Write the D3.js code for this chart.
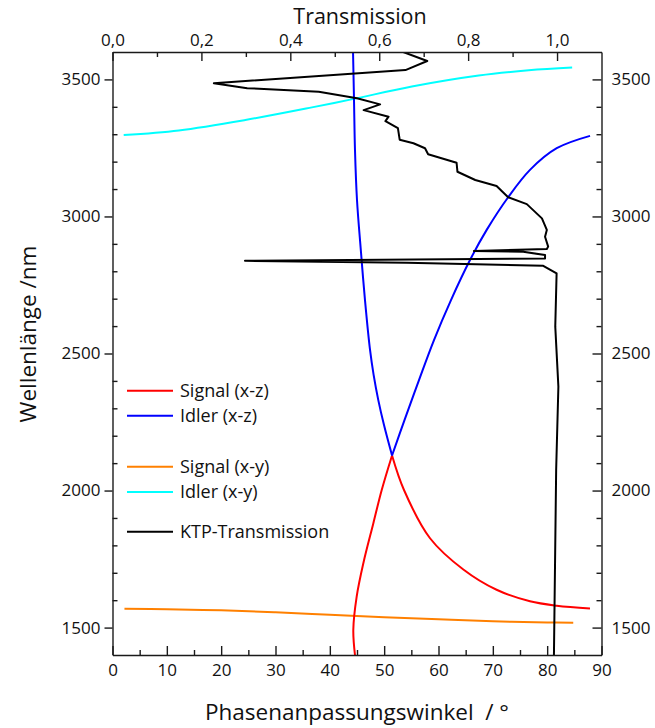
<!DOCTYPE html>
<html>
<head>
<meta charset="utf-8">
<script src="https://cdn.jsdelivr.net/npm/d3@7"></script>
<style>
  html, body { margin: 0; padding: 0; background: #fff; }
  svg { display: block; font-family: "Open Sans", "Noto Sans", sans-serif; }
  .axis path, .axis line { stroke: #1a1a1a; stroke-width: 1.4px; }
  .axis text { font-size: 17px; fill: #111; font-family: "Open Sans", "Noto Sans", sans-serif; }
</style>
</head>
<body>
<svg id="chart" width="655" height="728"></svg>
<script>
// Phase-matching angle (degrees) vs. wavelength (nm) for KTP, x-z plane
const signalXZLow  = [[44.63,1400],[44.32,1491],[44.94,1613],[46.17,1735],[48.0,1880],[49.55,2002],[51.45,2128]];
const signalXZHigh = [[51.45,2128],[53.65,2002],[58.44,1826],[64.57,1712],[70.69,1638],[76.84,1596],[81.76,1580],[87.88,1570]];
const idlerXZLow   = [[44.27,3600],[44.45,3425],[44.63,3242],[45.0,3060],[45.7,2878],[46.47,2695],[47.4,2513],[48.06,2422],[48.92,2330],[49.97,2239],[51.45,2128]];
const idlerXZHigh  = [[51.45,2128],[53.74,2257],[56.41,2403],[59.17,2549],[62.3,2695],[65.8,2841],[68.87,2951],[72.85,3071],[76.84,3170],[81.76,3249],[87.89,3294]];

// x-y plane
const signalXY = [[2.2,1569],[10,1567],[20,1563],[30,1556],[40,1547],[50,1538],[60,1530],[70,1523],[80,1519],[84.8,1518]];
const idlerXY  = [[2.06,3297],[12.2,3314],[24.45,3352],[36.7,3398],[44.4,3429],[55.1,3474],[67.4,3514],[76.6,3533],[84.6,3543]];

// KTP transmission spectrum, in measurement order
const ktpTransmission = [0.654,0.708,0.659,0.228,0.303,0.464,0.550,0.602,0.565,0.621,0.614,0.642,0.646,0.677,0.703,0.710,0.774,0.776,0.816,0.864,0.890,0.932,0.966,0.977,0.973,0.980,0.977,0.813,0.924,0.973,0.973,0.298,0.662,0.969,0.999,0.996,1.003,0.998,0.993];
const ktpWavelength   = [3600,3567,3534,3486,3468,3455,3431,3409,3388,3364,3348,3322,3280,3267,3249,3227,3196,3163,3133,3111,3070,3045,2993,2951,2926,2890,2881,2874,2871,2859,2847,2838,2831,2820,2792,2598,2379,2075,1400];

const angleTicks = d3.range(0, 91, 10);
const transTicks = [0, 0.2, 0.4, 0.6, 0.8, 1.0];
const wavelengthTicks = [1500, 2000, 2500, 3000, 3500];

const legendItems = [
  {label: "Signal (x-z)", color: "#ff0000"},
  {label: "Idler (x-z)", color: "#0000ff"},
  {label: "Signal (x-y)", color: "#ff8000"},
  {label: "Idler (x-y)", color: "#00ffff"},
  {label: "KTP-Transmission", color: "#000000"}
];

(function drawChart() {
  const svg = d3.select("#chart");
  const pLeft = 112.5, pRight = 601.5, pTop = 52, pBottom = 655;

  const x = d3.scaleLinear().domain([0, 90]).range([pLeft, pRight]);
  const xt = d3.scaleLinear().domain([0, 1.1]).range([pLeft, pRight]);
  const y = d3.scaleLinear().domain([1400, 3600]).range([pBottom, pTop]);

  svg.append("clipPath").attr("id", "plotClip")
    .append("rect").attr("x", pLeft).attr("y", pTop).attr("width", pRight - pLeft).attr("height", pBottom - pTop);

  const plot = svg.append("g").attr("clip-path", "url(#plotClip)");

  const angleLine = d3.line().x(d => x(d[0])).y(d => y(d[1])).curve(d3.curveCatmullRom.alpha(0.5));

  function drawCurve(data, color) {
    plot.append("path").datum(data)
      .attr("d", angleLine)
      .attr("fill", "none").attr("stroke", color)
      .attr("stroke-width", 2).attr("stroke-linejoin", "round");
  }

  drawCurve(signalXY, "#ff8000");
  drawCurve(idlerXY, "#00ffff");
  drawCurve(signalXZLow, "#ff0000");
  drawCurve(signalXZHigh, "#ff0000");
  drawCurve(idlerXZLow, "#0000ff");
  drawCurve(idlerXZHigh, "#0000ff");

  const ktp = ktpTransmission.map((t, i) => [t, ktpWavelength[i]]);
  plot.append("path").datum(ktp)
    .attr("d", d3.line().x(d => xt(d[0])).y(d => y(d[1])))
    .attr("fill", "none").attr("stroke", "#000")
    .attr("stroke-width", 2).attr("stroke-linejoin", "round");

  // Axes: major ticks with labels, minor ticks without
  const commaFmt = d => d3.format(".1f")(d).replace(".", ",");
  function minor(g) { g.select(".domain").remove(); }

  svg.append("g").attr("class", "axis").attr("transform", `translate(0,${pBottom})`)
    .call(d3.axisBottom(x).tickValues(d3.range(5, 90, 10)).tickSize(-5).tickFormat("")).call(minor);
  svg.append("g").attr("class", "axis").attr("transform", `translate(0,${pBottom})`)
    .call(d3.axisBottom(x).tickValues(angleTicks).tickSize(-9).tickSizeOuter(0).tickPadding(9).tickFormat(d3.format("d")));

  svg.append("g").attr("class", "axis").attr("transform", `translate(0,${pTop})`)
    .call(d3.axisTop(xt).tickValues([0.1, 0.3, 0.5, 0.7, 0.9]).tickSize(-5).tickFormat("")).call(minor);
  svg.append("g").attr("class", "axis").attr("transform", `translate(0,${pTop})`)
    .call(d3.axisTop(xt).tickValues(transTicks).tickSize(-9).tickSizeOuter(0).tickPadding(6).tickFormat(commaFmt));

  const minorWl = d3.range(1500, 3600, 100).filter(v => v % 500 !== 0);

  svg.append("g").attr("class", "axis").attr("transform", `translate(${pLeft},0)`)
    .call(d3.axisLeft(y).tickValues(minorWl).tickSize(-5).tickFormat("")).call(minor);
  svg.append("g").attr("class", "axis").attr("transform", `translate(${pLeft},0)`)
    .call(d3.axisLeft(y).tickValues(wavelengthTicks).tickSize(8).tickSizeOuter(0).tickPadding(4).tickFormat(d3.format("d")));

  svg.append("g").attr("class", "axis").attr("transform", `translate(${pRight},0)`)
    .call(d3.axisRight(y).tickValues(minorWl).tickSize(-5).tickFormat("")).call(minor);
  svg.append("g").attr("class", "axis").attr("transform", `translate(${pRight},0)`)
    .call(d3.axisRight(y).tickValues(wavelengthTicks).tickSize(-9).tickSizeOuter(0).tickPadding(10).tickFormat(d3.format("d")));

  // Axis titles
  svg.append("text").attr("x", 360).attr("y", 23.5).attr("text-anchor", "middle")
    .attr("font-size", 21.5).attr("fill", "#111").text("Transmission");
  svg.append("text").attr("x", 357).attr("y", 720).attr("text-anchor", "middle")
    .attr("font-size", 22.5).attr("fill", "#111").style("white-space", "pre")
    .text("Phasenanpassungswinkel  / °");
  svg.append("text").attr("transform", "translate(36,334) rotate(-90)").attr("text-anchor", "middle")
    .attr("font-size", 22.5).attr("fill", "#111").text("Wellenlänge /nm");

  // Legend
  const legendY = [390.7, 415.7, 466.7, 492, 531.7];
  const legend = svg.append("g");
  legendItems.forEach((item, i) => {
    legend.append("line").attr("x1", 127).attr("x2", 173)
      .attr("y1", legendY[i]).attr("y2", legendY[i])
      .attr("stroke", item.color).attr("stroke-width", 2);
    legend.append("text").attr("x", 180).attr("y", legendY[i]).attr("dy", "0.35em")
      .attr("font-size", 18).attr("fill", "#111").text(item.label);
  });
})();
</script>
</body>
</html>
